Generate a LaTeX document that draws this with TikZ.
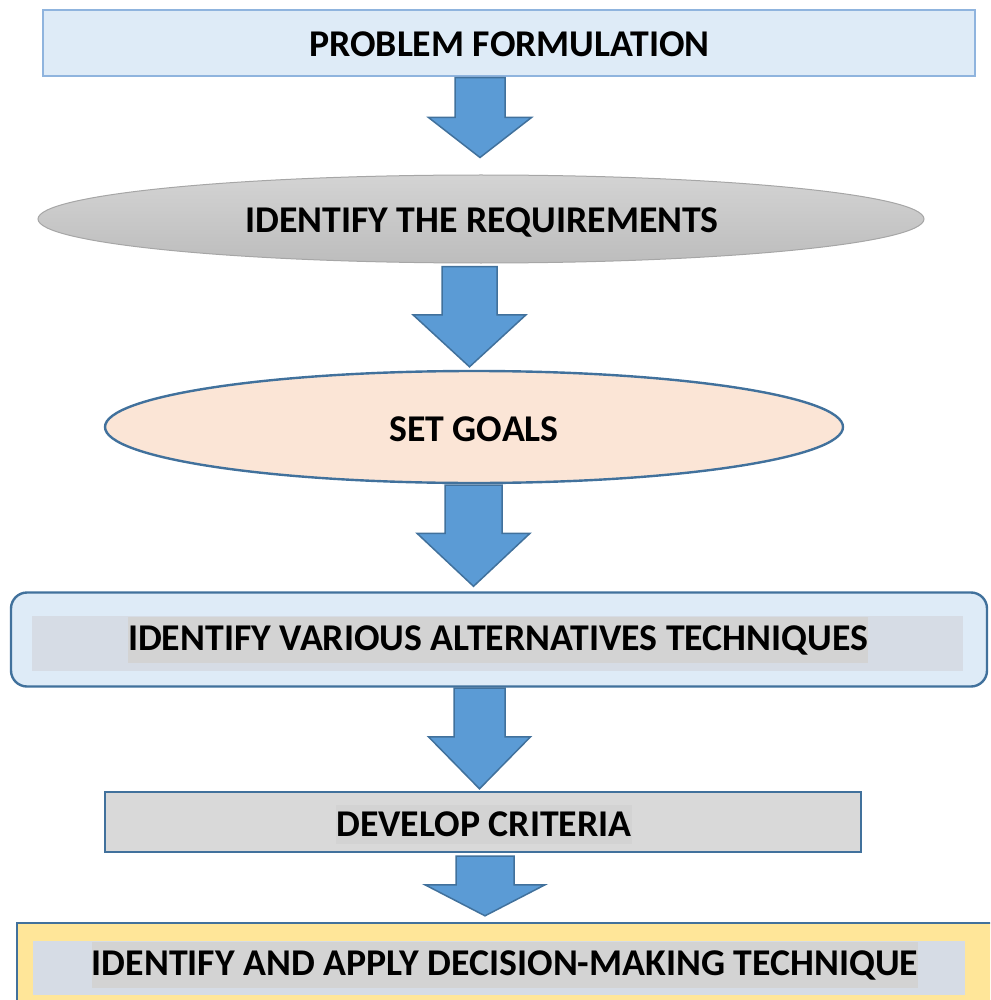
\documentclass[tikz,border=0pt]{standalone}
\usepackage{fontspec}
\setmainfont{Carlito}
\usetikzlibrary{shapes.geometric,calc}

\definecolor{arrowfill}{HTML}{5B9BD5}
\definecolor{edgeblue}{HTML}{41719C}
\definecolor{paleblue}{HTML}{DEEBF7}
\definecolor{lightedge}{HTML}{8FB4DE}
\definecolor{peach}{HTML}{FBE5D6}
\definecolor{greybox}{HTML}{D9D9D9}
\definecolor{greyhl}{HTML}{D3D3D3}
\definecolor{bluegrey}{HTML}{D6DCE5}
\definecolor{sand}{HTML}{FFE699}

\tikzset{
  lbl/.style={font=\fontsize{37.8}{40}\selectfont\bfseries, text=black, inner sep=0pt},
  stagebox/.style={draw=edgeblue, line width=2.4pt, inner sep=0pt},
  hlband/.style={fill=bluegrey, draw=none, inner sep=0pt},
  hltext/.style={lbl, fill=greyhl},
  flowarrow/.style={fill=arrowfill, draw=edgeblue, line width=1.5pt, line join=miter}
}

% block arrow: #1 from node, #2 to node, #3 x, #4 shaft half width,
% #5 head half width, #6 head height, #7 gap below #1, #8 gap above #2
\newcommand\blockarrow[8]{%
  \draw[flowarrow] let \p1=(#1.south), \p2=(#2.north) in
    (#3pt-#4pt,\y1-#7pt) -- (#3pt+#4pt,\y1-#7pt)
    -- (#3pt+#4pt,\y2+#8pt+#6pt) -- (#3pt+#5pt,\y2+#8pt+#6pt)
    -- (#3pt,\y2+#8pt)
    -- (#3pt-#5pt,\y2+#8pt+#6pt) -- (#3pt-#4pt,\y2+#8pt+#6pt) -- cycle;}

\begin{document}
\begin{tikzpicture}[x=1pt,y=-1pt]
\useasboundingbox (0,0) rectangle (990,1000);
\clip (0,0) rectangle (990,1000);

% stage 1
\node[draw=lightedge, line width=1.2pt, fill=paleblue, inner sep=0pt,
      minimum width=932pt, minimum height=66pt] (b1) at (509,43) {};
\node[lbl] (t1) at (509.5,44) {PROBLEM FORMULATION};

% stage 2
\node[ellipse, draw=black!35, line width=1pt, top color=black!17, bottom color=black!26,
      inner sep=0pt, minimum width=886pt, minimum height=88pt] (e2) at (481,219) {};
\node[lbl] (t2) at (482,222) {IDENTIFY THE REQUIREMENTS};

% stage 3
\node[ellipse, stagebox, fill=peach, minimum width=738pt, minimum height=112pt] (e3) at (474,427) {};
\node[lbl] (t3) at (474,429) {SET GOALS};

% stage 4
\node[stagebox, rounded corners=16pt, fill=paleblue, minimum width=976pt, minimum height=94pt] (b4) at (499,639.5) {};
\node[hlband, minimum width=931pt, minimum height=55pt] (h4) at (497.5,643.5) {};
\node[hltext, minimum width=740pt, minimum height=46pt] (t4) at (498,640) {IDENTIFY VARIOUS ALTERNATIVES TECHNIQUES};

% stage 5
\node[stagebox, fill=greybox, minimum width=756pt, minimum height=60pt] (b5) at (483,822) {};
\node[hltext, minimum width=292pt, minimum height=39pt] (t5) at (484,824) {DEVELOP CRITERIA};

% stage 6
\node[stagebox, fill=sand, minimum width=1000pt, minimum height=100pt] (b6) at (517,973) {};
\node[hlband, minimum width=932pt, minimum height=54pt] (h6) at (499,968) {};
\node[hltext, minimum width=822pt, minimum height=46pt] (t6) at (505,965) {IDENTIFY AND APPLY DECISION-MAKING TECHNIQUE};

% connectors
\blockarrow{b1}{e2}{480}{25}{51.5}{40}{1}{17}
\blockarrow{e2}{e3}{469.5}{27.5}{56.5}{52}{3}{3}
\blockarrow{e3}{b4}{473.5}{28.5}{56.5}{53}{1}{5}
\blockarrow{b4}{b5}{479.5}{25.5}{51}{52}{0.5}{2}
\blockarrow{b5}{b6}{485}{29}{60}{31}{3}{6}
\end{tikzpicture}
\end{document}
